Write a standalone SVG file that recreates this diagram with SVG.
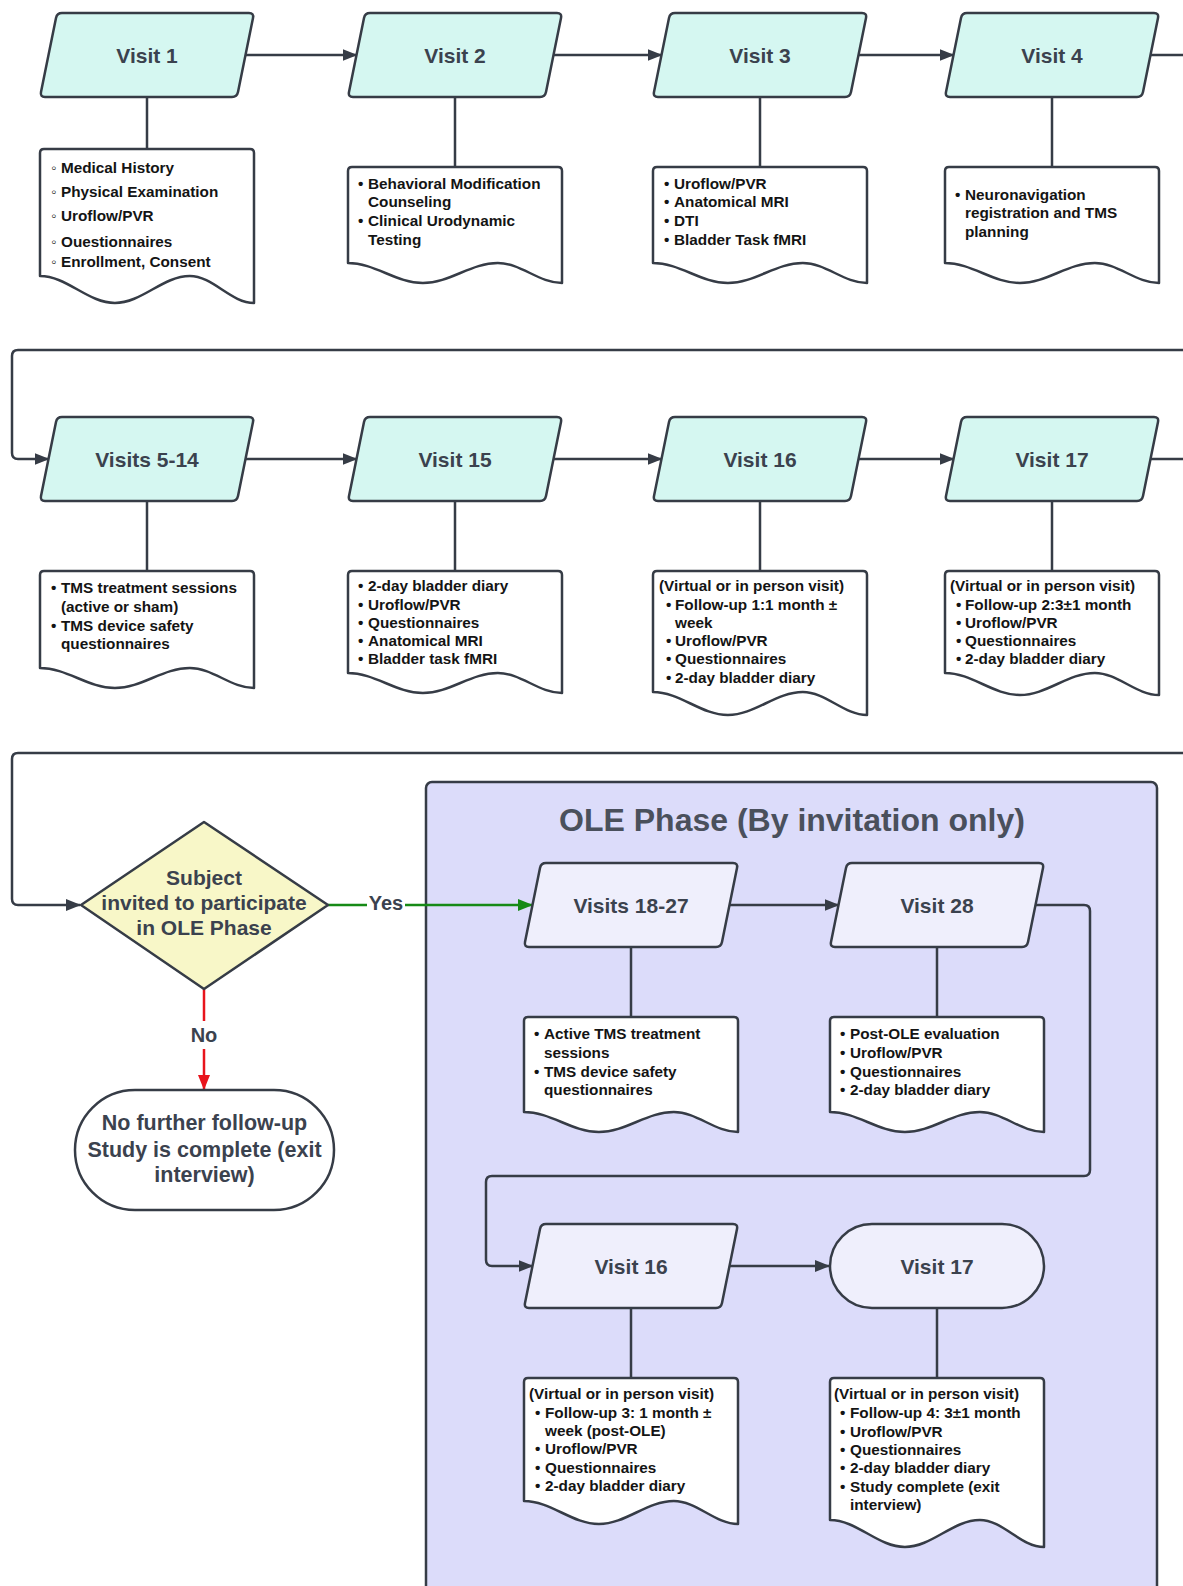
<svg xmlns="http://www.w3.org/2000/svg" xmlns:xlink="http://www.w3.org/1999/xlink" width="1183" height="1586" viewBox="0 0 1183 1586">
<style>
.n{stroke:#363c46;stroke-width:2.5;stroke-linejoin:round}
.mint{fill:#d5f7f1}
.lav{fill:#efeffc}
.doc{fill:#fff;stroke:#363c46;stroke-width:2.5;stroke-linejoin:round}
.lbl{font-family:"Liberation Sans",Arial,sans-serif;font-weight:700;font-size:21px;fill:#3b424e;text-anchor:middle}
.dt{font-family:"Liberation Sans",Arial,sans-serif;font-weight:700;font-size:15.3px;fill:#141414}
.c{fill:none;stroke:#363c46;stroke-width:2.5;stroke-linejoin:round}
.stem{fill:none;stroke:#363c46;stroke-width:2.5}
</style>
<defs>
<path id="para" d="M 22,0 H 209 Q 214,0 213,4.9 L 198,79.1 Q 197,84 192,84 H 5 Q 0,84 1,79.1 L 16,4.9 Q 17,0 22,0 Z"/>
<marker id="ah" markerUnits="userSpaceOnUse" viewBox="0 0 15 12" refX="14" refY="6" markerWidth="15" markerHeight="12" orient="auto"><path d="M0,0 L15,6 L0,12 z" fill="#363c46"/></marker>
<marker id="ahg" markerUnits="userSpaceOnUse" viewBox="0 0 15 12" refX="14" refY="6" markerWidth="15" markerHeight="12" orient="auto"><path d="M0,0 L15,6 L0,12 z" fill="#168a16"/></marker>
<marker id="ahr" markerUnits="userSpaceOnUse" viewBox="0 0 15 12" refX="14" refY="6" markerWidth="15" markerHeight="12" orient="auto"><path d="M0,0 L15,6 L0,12 z" fill="#e8141c"/></marker>
</defs>
<rect width="1183" height="1586" fill="#fff"/>

<g id="ole-phase">
<rect x="426" y="782" width="731" height="830" rx="6" fill="#dcdcfa" stroke="#363c46" stroke-width="2.5"/>
<text x="792" y="831" style="font-family:'Liberation Sans',Arial,sans-serif;font-weight:700;font-size:32px;fill:#4a505c;text-anchor:middle">OLE Phase (By invitation only)</text>
</g>

<g id="connectors">
<path class="c" d="M245.5,55 H356.5" marker-end="url(#ah)"/>
<path class="c" d="M553.5,55 H661.5" marker-end="url(#ah)"/>
<path class="c" d="M858.5,55 H953.5" marker-end="url(#ah)"/>
<path class="c" d="M1150.5,55 H1183"/>
<path class="c" d="M1183,350 H18 Q12,350 12,356 V453 Q12,459 18,459 H48.5" marker-end="url(#ah)"/>
<path class="c" d="M245.5,459 H356.5" marker-end="url(#ah)"/>
<path class="c" d="M553.5,459 H661.5" marker-end="url(#ah)"/>
<path class="c" d="M858.5,459 H953.5" marker-end="url(#ah)"/>
<path class="c" d="M1150.5,459 H1183"/>
<path class="c" d="M1183,753 H18 Q12,753 12,759 V899 Q12,905 18,905 H80" marker-end="url(#ah)"/>
<path class="stem" d="M147,97 V149 M455,97 V167 M760,97 V167 M1052,97 V167"/>
<path class="stem" d="M147,501 V571 M455,501 V571 M760,501 V571 M1052,501 V571"/>
<path class="stem" d="M631,947 V1017 M937,947 V1017 M631,1308 V1378 M937,1308 V1378"/>
<path fill="none" stroke="#168a16" stroke-width="2.5" d="M328,905 H532" marker-end="url(#ahg)"/>
<rect x="367" y="890" width="38" height="26" fill="#fff"/>
<text class="lbl" x="386" y="910" style="font-size:20px">Yes</text>
<path fill="none" stroke="#e8141c" stroke-width="2.5" d="M204,989 V1089" marker-end="url(#ahr)"/>
<rect x="188" y="1021" width="32" height="28" fill="#fff"/>
<text class="lbl" x="204" y="1042" style="font-size:20px">No</text>
<path class="c" d="M729.5,905 H838.5" marker-end="url(#ah)"/>
<path class="c" d="M1035.5,905 H1084 Q1090,905 1090,911 V1170 Q1090,1176 1084,1176 H492 Q486,1176 486,1182 V1260 Q486,1266 492,1266 H532.5" marker-end="url(#ah)"/>
<path class="c" d="M729.5,1266 H829" marker-end="url(#ah)"/>
</g>

<g id="visit1"><use href="#para" x="40" y="13" class="mint n"/><text class="lbl" x="147" y="62.5">Visit 1</text></g>
<g id="visit2"><use href="#para" x="348" y="13" class="mint n"/><text class="lbl" x="455" y="62.5">Visit 2</text></g>
<g id="visit3"><use href="#para" x="653" y="13" class="mint n"/><text class="lbl" x="760" y="62.5">Visit 3</text></g>
<g id="visit4"><use href="#para" x="945" y="13" class="mint n"/><text class="lbl" x="1052" y="62.5">Visit 4</text></g>

<g id="doc1">
<path class="doc" d="M44,149 h206 q4,0 4,4 V303 c-23.1,0 -41.1,-27 -64.2,-27 c-27,0 -47.9,27 -74.9,27 c-27,0 -47.9,-27 -74.9,-27 V153 q0,-4 4,-4 z"/>
<text class="dt"><tspan x="51" y="173">◦</tspan><tspan x="61" y="173">Medical History</tspan><tspan x="51" y="197">◦</tspan><tspan x="61" y="197">Physical Examination</tspan><tspan x="51" y="221">◦</tspan><tspan x="61" y="221">Uroflow/PVR</tspan><tspan x="51" y="247">◦</tspan><tspan x="61" y="247">Ouestionnaires</tspan><tspan x="51" y="267">◦</tspan><tspan x="61" y="267">Enrollment, Consent</tspan></text>
</g>
<g id="doc2">
<path class="doc" d="M352,167 h206 q4,0 4,4 V283 c-23.1,0 -41.1,-20 -64.2,-20 c-27,0 -47.9,20 -74.9,20 c-27,0 -47.9,-20 -74.9,-20 V171 q0,-4 4,-4 z"/>
<text class="dt"><tspan x="358" y="189">•</tspan><tspan x="368" y="189">Behavioral Modification</tspan><tspan x="368" y="207">Counseling</tspan><tspan x="358" y="226">•</tspan><tspan x="368" y="226">Clinical Urodynamic</tspan><tspan x="368" y="245">Testing</tspan></text>
</g>
<g id="doc3">
<path class="doc" d="M657,167 h206 q4,0 4,4 V283 c-23.1,0 -41.1,-20 -64.2,-20 c-27,0 -47.9,20 -74.9,20 c-27,0 -47.9,-20 -74.9,-20 V171 q0,-4 4,-4 z"/>
<text class="dt"><tspan x="664" y="189">•</tspan><tspan x="674" y="189">Uroflow/PVR</tspan><tspan x="664" y="207">•</tspan><tspan x="674" y="207">Anatomical MRI</tspan><tspan x="664" y="226">•</tspan><tspan x="674" y="226">DTI</tspan><tspan x="664" y="245">•</tspan><tspan x="674" y="245">Bladder Task fMRI</tspan></text>
</g>
<g id="doc4">
<path class="doc" d="M949,167 h206 q4,0 4,4 V283 c-23.1,0 -41.1,-20 -64.2,-20 c-27,0 -47.9,20 -74.9,20 c-27,0 -47.9,-20 -74.9,-20 V171 q0,-4 4,-4 z"/>
<text class="dt"><tspan x="955" y="200">•</tspan><tspan x="965" y="200">Neuronavigation</tspan><tspan x="965" y="218">registration and TMS</tspan><tspan x="965" y="237">planning</tspan></text>
</g>

<g id="visits5-14"><use href="#para" x="40" y="417" class="mint n"/><text class="lbl" x="147" y="466.5">Visits 5-14</text></g>
<g id="visit15"><use href="#para" x="348" y="417" class="mint n"/><text class="lbl" x="455" y="466.5">Visit 15</text></g>
<g id="visit16"><use href="#para" x="653" y="417" class="mint n"/><text class="lbl" x="760" y="466.5">Visit 16</text></g>
<g id="visit17"><use href="#para" x="945" y="417" class="mint n"/><text class="lbl" x="1052" y="466.5">Visit 17</text></g>

<g id="doc5-14">
<path class="doc" d="M44,571 h206 q4,0 4,4 V688 c-23.1,0 -41.1,-20 -64.2,-20 c-27,0 -47.9,20 -74.9,20 c-27,0 -47.9,-20 -74.9,-20 V575 q0,-4 4,-4 z"/>
<text class="dt"><tspan x="51" y="593">•</tspan><tspan x="61" y="593">TMS treatment sessions</tspan><tspan x="61" y="612">(active or sham)</tspan><tspan x="51" y="631">•</tspan><tspan x="61" y="631">TMS device safety</tspan><tspan x="61" y="649">questionnaires</tspan></text>
</g>
<g id="doc15">
<path class="doc" d="M352,571 h206 q4,0 4,4 V693 c-23.1,0 -41.1,-20 -64.2,-20 c-27,0 -47.9,20 -74.9,20 c-27,0 -47.9,-20 -74.9,-20 V575 q0,-4 4,-4 z"/>
<text class="dt"><tspan x="358" y="591">•</tspan><tspan x="368" y="591">2-day bladder diary</tspan><tspan x="358" y="610">•</tspan><tspan x="368" y="610">Uroflow/PVR</tspan><tspan x="358" y="628">•</tspan><tspan x="368" y="628">Questionnaires</tspan><tspan x="358" y="646">•</tspan><tspan x="368" y="646">Anatomical MRI</tspan><tspan x="358" y="664">•</tspan><tspan x="368" y="664">Bladder task fMRI</tspan></text>
</g>
<g id="doc16">
<path class="doc" d="M657,571 h206 q4,0 4,4 V715 c-23.1,0 -41.1,-23 -64.2,-23 c-27,0 -47.9,23 -74.9,23 c-27,0 -47.9,-23 -74.9,-23 V575 q0,-4 4,-4 z"/>
<text class="dt"><tspan x="659" y="591">(Virtual or in person visit)</tspan><tspan x="666" y="610">•</tspan><tspan x="675" y="610">Follow-up 1:1 month ±</tspan><tspan x="675" y="628">week</tspan><tspan x="666" y="646">•</tspan><tspan x="675" y="646">Uroflow/PVR</tspan><tspan x="666" y="664">•</tspan><tspan x="675" y="664">Questionnaires</tspan><tspan x="666" y="683">•</tspan><tspan x="675" y="683">2-day bladder diary</tspan></text>
</g>
<g id="doc17">
<path class="doc" d="M949,571 h206 q4,0 4,4 V695 c-23.1,0 -41.1,-22 -64.2,-22 c-27,0 -47.9,22 -74.9,22 c-27,0 -47.9,-22 -74.9,-22 V575 q0,-4 4,-4 z"/>
<text class="dt"><tspan x="950" y="591">(Virtual or in person visit)</tspan><tspan x="956" y="610">•</tspan><tspan x="965" y="610">Follow-up 2:3±1 month</tspan><tspan x="956" y="628">•</tspan><tspan x="965" y="628">Uroflow/PVR</tspan><tspan x="956" y="646">•</tspan><tspan x="965" y="646">Questionnaires</tspan><tspan x="956" y="664">•</tspan><tspan x="965" y="664">2-day bladder diary</tspan></text>
</g>

<g id="decision">
<polygon points="81,905 204,822 328,905 204,989" fill="#f8f7c8" class="n"/>
<text class="lbl"><tspan x="204" y="884.5">Subject</tspan><tspan x="204" y="909.5">invited to participate</tspan><tspan x="204" y="934.5">in OLE Phase</tspan></text>
</g>
<g id="end-no">
<rect x="75" y="1090" width="259" height="120" rx="60" fill="#fff" class="n"/>
<text class="lbl" style="font-size:21.5px"><tspan x="204.5" y="1130">No further follow-up</tspan><tspan x="204.5" y="1157">Study is complete (exit</tspan><tspan x="204.5" y="1182">interview)</tspan></text>
</g>

<g id="visits18-27"><use href="#para" x="524" y="863" class="lav n"/><text class="lbl" x="631" y="912.5">Visits 18-27</text></g>
<g id="visit28"><use href="#para" x="830" y="863" class="lav n"/><text class="lbl" x="937" y="912.5">Visit 28</text></g>
<g id="doc18-27">
<path class="doc" d="M528,1017 h206 q4,0 4,4 V1132 c-23.1,0 -41.1,-20 -64.2,-20 c-27,0 -47.9,20 -74.9,20 c-27,0 -47.9,-20 -74.9,-20 V1021 q0,-4 4,-4 z"/>
<text class="dt"><tspan x="534" y="1039">•</tspan><tspan x="544" y="1039">Active TMS treatment</tspan><tspan x="544" y="1058">sessions</tspan><tspan x="534" y="1077">•</tspan><tspan x="544" y="1077">TMS device safety</tspan><tspan x="544" y="1095">questionnaires</tspan></text>
</g>
<g id="doc28">
<path class="doc" d="M834,1017 h206 q4,0 4,4 V1132 c-23.1,0 -41.1,-20 -64.2,-20 c-27,0 -47.9,20 -74.9,20 c-27,0 -47.9,-20 -74.9,-20 V1021 q0,-4 4,-4 z"/>
<text class="dt"><tspan x="840" y="1039">•</tspan><tspan x="850" y="1039">Post-OLE evaluation</tspan><tspan x="840" y="1058">•</tspan><tspan x="850" y="1058">Uroflow/PVR</tspan><tspan x="840" y="1077">•</tspan><tspan x="850" y="1077">Questionnaires</tspan><tspan x="840" y="1095">•</tspan><tspan x="850" y="1095">2-day bladder diary</tspan></text>
</g>

<g id="ole-visit16"><use href="#para" x="524" y="1224" class="lav n"/><text class="lbl" x="631" y="1273.5">Visit 16</text></g>
<g id="ole-visit17"><rect x="830" y="1224" width="214" height="84" rx="42" class="lav n"/><text class="lbl" x="937" y="1273.5">Visit 17</text></g>
<g id="doc-ole16">
<path class="doc" d="M528,1378 h206 q4,0 4,4 V1524 c-23.1,0 -41.1,-23 -64.2,-23 c-27,0 -47.9,23 -74.9,23 c-27,0 -47.9,-23 -74.9,-23 V1382 q0,-4 4,-4 z"/>
<text class="dt"><tspan x="529" y="1399">(Virtual or in person visit)</tspan><tspan x="535" y="1418">•</tspan><tspan x="545" y="1418">Follow-up 3: 1 month ±</tspan><tspan x="545" y="1436">week (post-OLE)</tspan><tspan x="535" y="1454">•</tspan><tspan x="545" y="1454">Uroflow/PVR</tspan><tspan x="535" y="1473">•</tspan><tspan x="545" y="1473">Questionnaires</tspan><tspan x="535" y="1491">•</tspan><tspan x="545" y="1491">2-day bladder diary</tspan></text>
</g>
<g id="doc-ole17">
<path class="doc" d="M834,1378 h206 q4,0 4,4 V1547 c-23.1,0 -41.1,-27 -64.2,-27 c-27,0 -47.9,27 -74.9,27 c-27,0 -47.9,-27 -74.9,-27 V1382 q0,-4 4,-4 z"/>
<text class="dt"><tspan x="834" y="1399">(Virtual or in person visit)</tspan><tspan x="840" y="1418">•</tspan><tspan x="850" y="1418">Follow-up 4: 3±1 month</tspan><tspan x="840" y="1437">•</tspan><tspan x="850" y="1437">Uroflow/PVR</tspan><tspan x="840" y="1455">•</tspan><tspan x="850" y="1455">Questionnaires</tspan><tspan x="840" y="1473">•</tspan><tspan x="850" y="1473">2-day bladder diary</tspan><tspan x="840" y="1492">•</tspan><tspan x="850" y="1492">Study complete (exit</tspan><tspan x="850" y="1510">interview)</tspan></text>
</g>
</svg>
